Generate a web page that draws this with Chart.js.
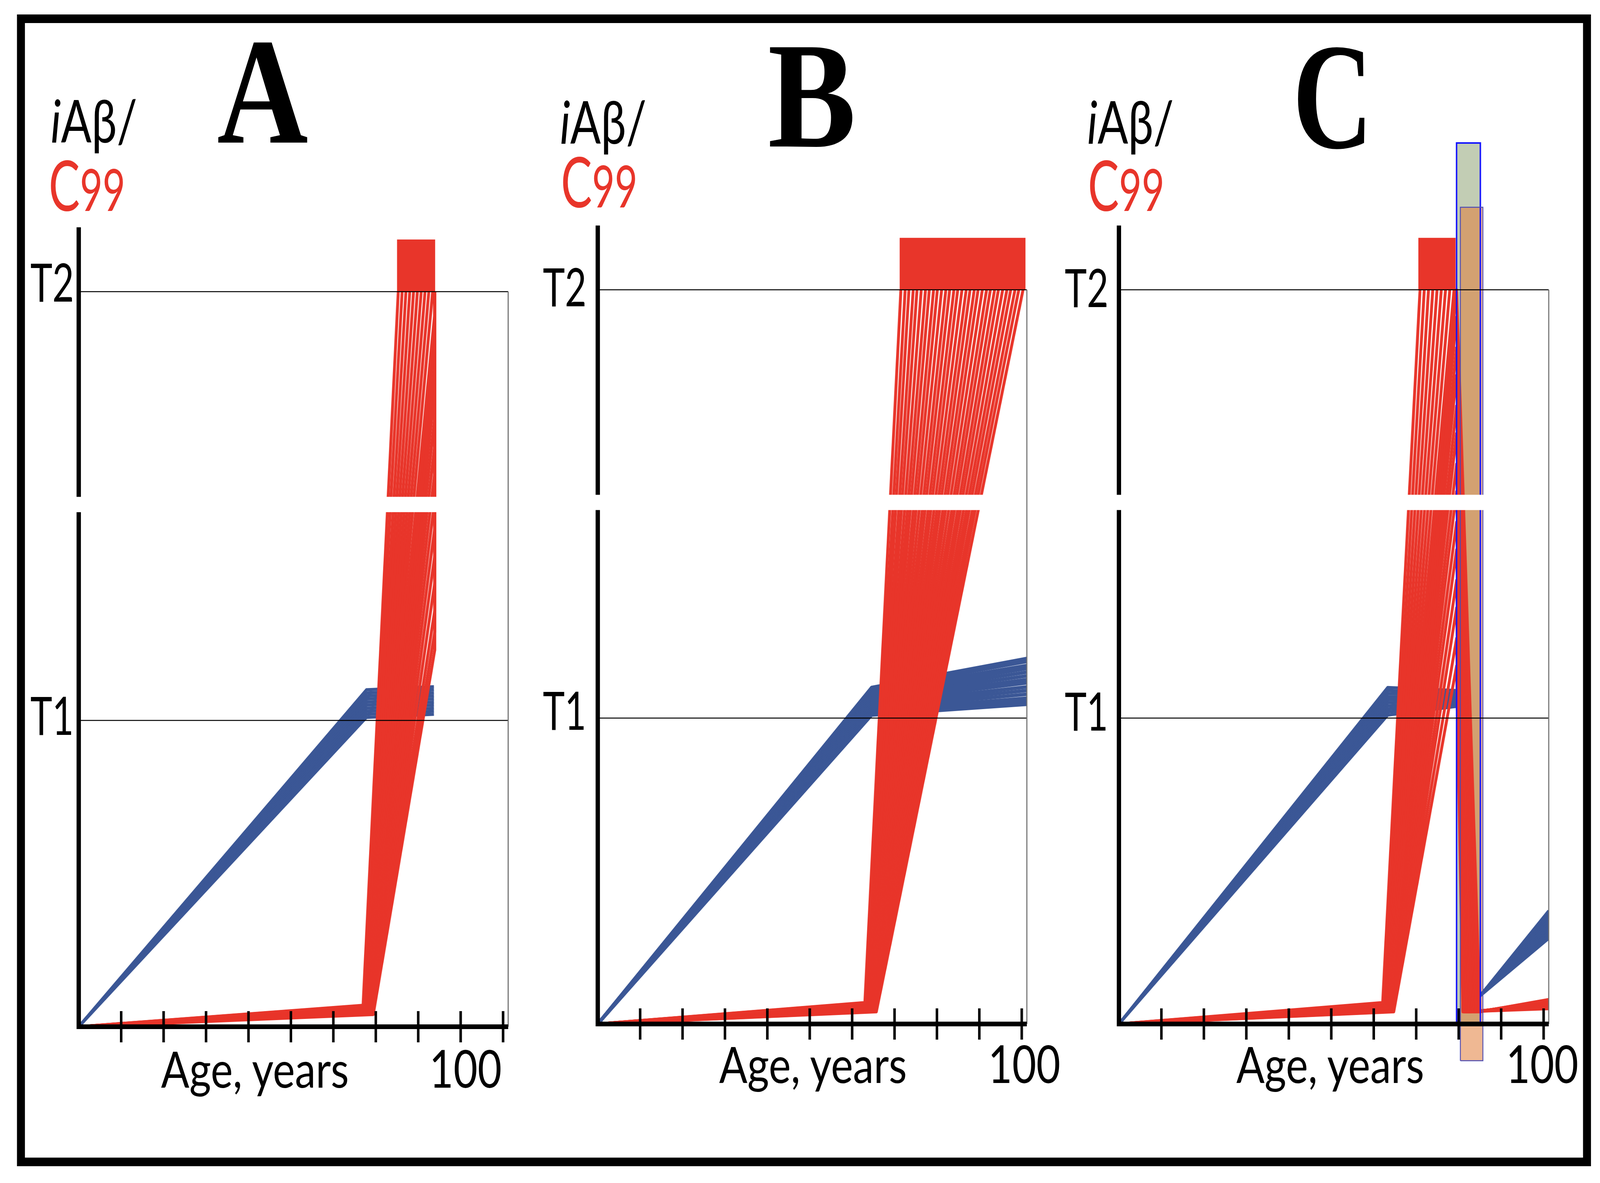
<!DOCTYPE html>
<html>
<head>
<meta charset="utf-8">
<script src="https://cdn.jsdelivr.net/npm/chart.js"></script>
<style>
  html, body { margin: 0; padding: 0; background: #fff; overflow: hidden; width: 100%; height: 100%; }
  #wrap { position: relative; width: 100vw; height: 100vh; overflow: hidden; background: #fff; }
  #fig { position: absolute; left: 0; top: 0; width: 4430px; height: 3028px; overflow: hidden; background: #fff; transform-origin: 0 0; }
  #fig canvas { position: absolute; }
  #labels { position: absolute; left: 0; top: 0; }
  .serif { font-family: "Liberation Serif", "DejaVu Serif", serif; font-weight: bold; }
  .sans { font-family: Lato, "Open Sans", "Noto Sans", sans-serif; }
</style>
</head>
<body>
<div id="wrap">
<div id="fig">
  <canvas id="chartA"></canvas>
  <canvas id="chartB"></canvas>
  <canvas id="chartC"></canvas>
  <svg id="labels" width="4430" height="3028" xmlns="http://www.w3.org/2000/svg">
    <rect x="58" y="48" width="4336" height="2926" fill="none" stroke="#000" stroke-width="22"/>
  </svg>
</div>
</div>
<script>
// ---- labels / ticks ----
const panelLetters = ['A', 'B', 'C'];
const thresholdLevels = [1, 2.40];        // T1, T2 on the display axis
const thresholdLabels = ['T1', 'T2'];
const xTickValues = [10, 20, 30, 40, 50, 60, 70, 80, 90, 100];
const xTickLabel = '100';
const xTitle = 'Age, years';
const yTitleTop = 'Aβ/';
const yTitleBottom = ['C', '99'];

// axis extents (display units), break in the y axis
const xMax = 101.2;
const yMin = -0.2, yMax = 2.95;
const yAxisTop = 2.61;
const breakRange = [1.68, 1.73];
const lowLevel = 0.045;
const redBlockTop = 2.57;

// ---- panel A ----
const blueAgesA = [0, 67.8, 83.7];
const blueKinkA = [1.01, 1.02, 1.03, 1.04, 1.05, 1.06, 1.07, 1.08, 1.09, 1.10];
const blueEndA = [1.02, 1.03, 1.04, 1.05, 1.06, 1.07, 1.08, 1.09, 1.10, 1.11];
const redKinkAgeA = [67.0, 67.1, 67.3, 67.4, 67.5, 67.6, 67.7, 67.8, 67.9, 68.0, 68.1, 68.2, 68.3, 68.4, 68.5,
                     68.6, 68.7, 68.8, 68.9, 69.0, 69.1, 69.2, 69.3, 69.4];
const redKinkA = [0.070, 0.069, 0.067, 0.066, 0.064, 0.063, 0.061, 0.060, 0.058, 0.057, 0.055, 0.054, 0.053, 0.051, 0.050,
                  0.049, 0.048, 0.047, 0.046, 0.045, 0.044, 0.043, 0.042, 0.040];
const redEndAgeA = [75.3, 76.2, 77.1, 78.0, 78.9, 79.8, 80.7, 81.6, 82.5, 83.4, 83.9, 83.9, 83.9, 83.9, 83.9,
                    83.9, 83.9, 83.9, 83.9, 83.9, 83.9, 83.9, 83.9, 83.9];
const redEndA = [2.40, 2.40, 2.40, 2.40, 2.40, 2.40, 2.40, 2.40, 2.40, 2.40, 2.33, 2.25, 2.16, 2.08, 1.99,
                 1.90, 1.81, 1.72, 1.63, 1.54, 1.45, 1.36, 1.29, 1.23];
const redBlockA = [75.0, 84.0];

// ---- panel B ----
const blueAgesB = [0, 64.6, 101.2];
const blueKinkB = [1.010, 1.017, 1.024, 1.031, 1.038, 1.045, 1.052, 1.059, 1.066, 1.073, 1.080, 1.087, 1.094, 1.100];
const blueEndB = [1.045, 1.055, 1.065, 1.078, 1.090, 1.102, 1.115, 1.126, 1.138, 1.150, 1.162, 1.172, 1.185, 1.195];
const redKinkAgeB = [63.0, 63.1, 63.2, 63.3, 63.4, 63.5, 63.5, 63.6, 63.7, 63.8, 63.9, 64.0, 64.1, 64.2, 64.3, 64.4,
                     64.4, 64.5, 64.6, 64.7, 64.8, 64.9, 65.0, 65.1, 65.2, 65.3, 65.3, 65.4, 65.5, 65.6, 65.7];
const redKinkB = [0.070, 0.069, 0.068, 0.067, 0.066, 0.065, 0.064, 0.063, 0.062, 0.061, 0.060, 0.059, 0.058, 0.057, 0.056, 0.055,
                  0.054, 0.053, 0.052, 0.051, 0.050, 0.049, 0.048, 0.047, 0.046, 0.045, 0.044, 0.043, 0.042, 0.041, 0.040];
const redEndAgeB = [71.5, 72.5, 73.4, 74.4, 75.3, 76.3, 77.3, 78.2, 79.2, 80.1, 81.1, 82.1, 83.0, 84.0, 84.9, 85.9,
                    86.9, 87.8, 88.8, 89.7, 90.7, 91.7, 92.6, 93.6, 94.5, 95.5, 96.5, 97.4, 98.4, 99.3, 100.3];
const redBlockB = [71.2, 100.9];

// ---- panel C ----
const blueKinkAgeC = 63.3;
const blueKinkC = [1.01, 1.02, 1.03, 1.04, 1.05, 1.06, 1.07, 1.08, 1.09, 1.10];
const blueTreatAgeC = [80.4, 80.3, 80.2, 80.1, 80.0, 79.9, 79.8, 79.7, 79.6, 79.5];
const blueTreatC = [1.04, 1.045, 1.05, 1.055, 1.06, 1.065, 1.07, 1.075, 1.08, 1.09];
const blueDropAgeC = [81.0, 81.1, 81.3, 81.4, 81.6, 81.7, 81.9, 82.0, 82.2, 82.3];
const blueEndC = [0.28, 0.29, 0.30, 0.31, 0.32, 0.33, 0.34, 0.35, 0.36, 0.37];
// red lines that reach T2 before treatment
const redKinkAgeC = [62.1, 62.3, 62.5, 62.7, 62.9, 63.1, 63.3, 63.5, 63.7];
const redKinkC = [0.070, 0.068, 0.066, 0.064, 0.062, 0.060, 0.058, 0.056, 0.054];
const redEndAgeC = [70.9, 71.9, 72.9, 73.9, 74.9, 75.9, 76.9, 77.9, 78.9];
// red lines cut by treatment
const redCutKinkAgeC = [63.8, 63.9, 63.9, 64.0, 64.1, 64.1, 64.2, 64.3, 64.3, 64.4, 64.5, 64.5, 64.6, 64.7];
const redCutKinkC = [0.053, 0.052, 0.051, 0.050, 0.049, 0.048, 0.047, 0.046, 0.045, 0.044, 0.043, 0.042, 0.041, 0.040];
const redCutAgeC = 79.5;
const redCutC = [2.40, 2.31, 2.21, 2.12, 2.02, 1.93, 1.83, 1.74, 1.64, 1.55, 1.45, 1.36, 1.26, 1.17];
const redDropAgeC = [85.0, 84.7, 84.4, 84.1, 83.8, 83.5, 83.1, 82.8, 82.5, 82.2, 81.9, 81.6, 81.3, 81.0];
const redEndC = [0.080, 0.078, 0.075, 0.073, 0.071, 0.068, 0.066, 0.064, 0.061, 0.059, 0.057, 0.055, 0.052, 0.050];
const redBlockC = [70.5, 79.3];
const greenBoxAges = [79.5, 85.1], greenBoxLevels = [0, 2.88];
const orangeBoxAges = [80.4, 85.7], orangeBoxLevels = [-0.12, 2.67];

const RED = '#e8352a';
const BLUE = '#3b5796';

// pixel frame of every plot area (x=0 .. xMax, y=0 line, px per unit)
const panelGeom = [
  { left: 218, right: 1407, zero: 2628, unit: 784 },
  { left: 1655, right: 2843, zero: 2621, unit: 783 },
  { left: 3098, right: 4288, zero: 2621, unit: 783 }
];

// stretch the 4430x3028 figure over the viewport we actually get
const fig = document.getElementById('fig');
fig.style.transform = 'scale(' + (window.innerWidth / 4430) + ',' + (window.innerHeight / 3028) + ')';

function trace(points, color, order, width) {
  return {
    data: points.map(p => ({ x: p[0], y: p[1] })),
    borderColor: color, borderWidth: width || 8, fill: false, pointRadius: 0,
    borderJoinStyle: 'round', order: order
  };
}

function block(ages, lo, hi, color, order) {
  return {
    data: [{ x: ages[0], y: hi }, { x: ages[1], y: hi }],
    borderColor: 'rgba(0,0,0,0)', borderWidth: 0, backgroundColor: color,
    fill: { value: lo }, pointRadius: 0, order: order
  };
}

function outline(ages, levels, color, width, order) {
  const a = ages, l = levels;
  return {
    data: [{ x: a[0], y: l[0] }, { x: a[0], y: l[1] }, { x: a[1], y: l[1] }, { x: a[1], y: l[0] }, { x: a[0], y: l[0] }],
    borderColor: color, borderWidth: width, fill: false, pointRadius: 0, order: order
  };
}

// axes, thresholds, axis break and ticks, drawn through the chart scales
const axisDecor = {
  id: 'axisDecor',
  afterDatasetsDraw(chart) {
    const { ctx, scales: { x, y } } = chart;
    const x0 = x.getPixelForValue(0), x1 = x.getPixelForValue(xMax);
    const y0 = y.getPixelForValue(0);
    const seg = (ax, ay, bx, by) => { ctx.beginPath(); ctx.moveTo(ax, ay); ctx.lineTo(bx, by); ctx.stroke(); };
    ctx.save();
    ctx.lineCap = 'butt';
    ctx.strokeStyle = '#000';
    ctx.lineWidth = 2.5;
    thresholdLevels.forEach(v => { const py = y.getPixelForValue(v); seg(x0, py, x1, py); });

    const bTop = y.getPixelForValue(breakRange[1]), bBot = y.getPixelForValue(breakRange[0]);
    ctx.fillStyle = '#fff';
    ctx.fillRect(x0 - 14, bTop, x1 - x0 + 10, bBot - bTop);

    ctx.strokeStyle = '#6f6f6f';
    ctx.lineWidth = 3;
    seg(x1, y.getPixelForValue(thresholdLevels[1]), x1, y0);

    ctx.strokeStyle = '#000';
    ctx.lineWidth = 12;
    seg(x0, y0 + 6, x0, bBot);
    seg(x0, bTop, x0, y.getPixelForValue(yAxisTop));
    seg(x0 - 6, y0, x1, y0);
    ctx.lineWidth = 7;
    xTickValues.forEach(v => { const px = x.getPixelForValue(v); seg(px, y0 - 40, px, y0 + 40); });
    ctx.restore();
  }
};

function buildChart(id, geom, datasets) {
  const canvas = document.getElementById(id);
  const cw = geom.right - geom.left + 300, ch = 2600, top = 250;
  canvas.width = cw; canvas.height = ch;
  canvas.style.left = (geom.left - 200) + 'px';
  canvas.style.top = top + 'px';
  canvas.style.width = cw + 'px';
  canvas.style.height = ch + 'px';
  const areaTop = geom.zero - yMax * geom.unit;
  const areaBottom = geom.zero - yMin * geom.unit;
  return new Chart(canvas.getContext('2d'), {
    type: 'line',
    data: { datasets: datasets },
    options: {
      responsive: false,
      animation: false,
      devicePixelRatio: 1,
      events: [],
      layout: { padding: { left: 200, right: 100, top: areaTop - top, bottom: top + ch - areaBottom } },
      scales: {
        x: { type: 'linear', display: false, min: 0, max: xMax },
        y: { type: 'linear', display: false, min: yMin, max: yMax }
      },
      elements: { line: { tension: 0 } },
      plugins: { legend: { display: false }, tooltip: { enabled: false } }
    },
    plugins: [axisDecor]
  });
}

// panel A: lines leaving the plot at age 84 run up its right edge to T2
const setsA = [];
blueKinkA.forEach((k, i) => setsA.push(trace([[0, 0], [blueAgesA[1], k], [blueAgesA[2], blueEndA[i]]], BLUE, 20)));
redKinkAgeA.forEach((a, i) => {
  const pts = [[0, 0], [a, redKinkA[i]], [redEndAgeA[i], redEndA[i]]];
  if (redEndA[i] < thresholdLevels[1]) pts.push([redEndAgeA[i], thresholdLevels[1]]);
  setsA.push(trace(pts, RED, 10));
});
setsA.push(block(redBlockA, thresholdLevels[1], redBlockTop, RED, 5));
buildChart('chartA', panelGeom[0], setsA);

// panel B
const setsB = [];
blueKinkB.forEach((k, i) => setsB.push(trace([[0, 0], [blueAgesB[1], k], [blueAgesB[2], blueEndB[i]]], BLUE, 20, 9)));
redKinkAgeB.forEach((a, i) => setsB.push(trace([[0, 0], [a, redKinkB[i]], [redEndAgeB[i], thresholdLevels[1]]], RED, 10)));
setsB.push(block(redBlockB, thresholdLevels[1], redBlockTop, RED, 5));
buildChart('chartB', panelGeom[1], setsB);

// panel C
const setsC = [];
setsC.push(block(greenBoxAges, greenBoxLevels[0], greenBoxLevels[1], '#c2cdb4', 40));
setsC.push(block(orangeBoxAges, orangeBoxLevels[0], orangeBoxLevels[1], 'rgba(226,126,59,0.55)', 35));
blueKinkC.forEach((k, i) => setsC.push(trace([[0, 0], [blueKinkAgeC, k], [blueTreatAgeC[i], blueTreatC[i]],
  [blueDropAgeC[i], lowLevel], [xMax, blueEndC[i]]], BLUE, 20)));
redKinkAgeC.forEach((a, i) => setsC.push(trace([[0, 0], [a, redKinkC[i]], [redEndAgeC[i], thresholdLevels[1]]], RED, 10)));
redCutKinkAgeC.forEach((a, i) => setsC.push(trace([[0, 0], [a, redCutKinkC[i]], [redCutAgeC, redCutC[i]],
  [redDropAgeC[i], lowLevel - 0.005], [xMax, redEndC[i]]], RED, 10)));
setsC.push(block(redBlockC, thresholdLevels[1], redBlockTop, RED, 5));
setsC.push(outline(greenBoxAges, greenBoxLevels, '#1414ff', 4, 2));
setsC.push(outline(orangeBoxAges, orangeBoxLevels, '#4b4bb4', 2.5, 1));
buildChart('chartC', panelGeom[2], setsC);

// ---- text (SVG, real text) ----
const panelText = [
  { letter: [727, 365, 252], top: [140, 365], bottom: [135, 540], t1: [84, 1881], t2: [84, 772], title: [446, 2784], hundred: [1189, 2784] },
  { letter: [2248, 375, 244], top: [1550, 368], bottom: [1553, 531], t1: [1503, 1868], t2: [1503, 784], title: [1991, 2772], hundred: [2736, 2772] },
  { letter: [3690, 378, 222], top: [3010, 368], bottom: [3012, 540], t1: [2948, 1870], t2: [2948, 786], title: [3423, 2772], hundred: [4170, 2772] }
];
const svg = document.getElementById('labels');
const NS = 'http://www.w3.org/2000/svg';
function addText(str, x, yb, size, cls, opts) {
  const t = document.createElementNS(NS, 'text');
  t.setAttribute('x', x); t.setAttribute('y', yb);
  t.setAttribute('font-size', size);
  t.setAttribute('class', cls);
  t.setAttribute('fill', (opts && opts.fill) || '#000');
  if (opts && opts.anchor) t.setAttribute('text-anchor', opts.anchor);
  if (opts && opts.len) { t.setAttribute('textLength', opts.len); t.setAttribute('lengthAdjust', 'spacingAndGlyphs'); }
  if (typeof str === 'string') t.textContent = str;
  else str.forEach(part => {
    const s = document.createElementNS(NS, 'tspan');
    s.textContent = part.text;
    if (part.italic) s.setAttribute('font-style', 'italic');
    if (part.size) s.setAttribute('font-size', part.size);
    t.appendChild(s);
  });
  svg.appendChild(t);
}
panelText.forEach((p, i) => {
  addText(panelLetters[i], p.letter[0], p.letter[1], 388, 'serif', { anchor: 'middle', len: p.letter[2] });
  addText([{ text: 'i', italic: true }, { text: yTitleTop }], p.top[0], p.top[1], 152, 'sans', { len: 240 });
  addText([{ text: yTitleBottom[0] }, { text: yTitleBottom[1], size: 150 }], p.bottom[0], p.bottom[1], 178, 'sans', { fill: RED, len: 212 });
  addText(thresholdLabels[0], p.t1[0], p.t1[1], 136, 'sans', { len: 120 });
  addText(thresholdLabels[1], p.t2[0], p.t2[1], 136, 'sans', { len: 121 });
  addText(xTitle, p.title[0], p.title[1], 128, 'sans', { len: 520 });
  addText(xTickLabel, p.hundred[0], p.hundred[1], 134, 'sans', { len: 200 });
});
</script>
</body>
</html>
